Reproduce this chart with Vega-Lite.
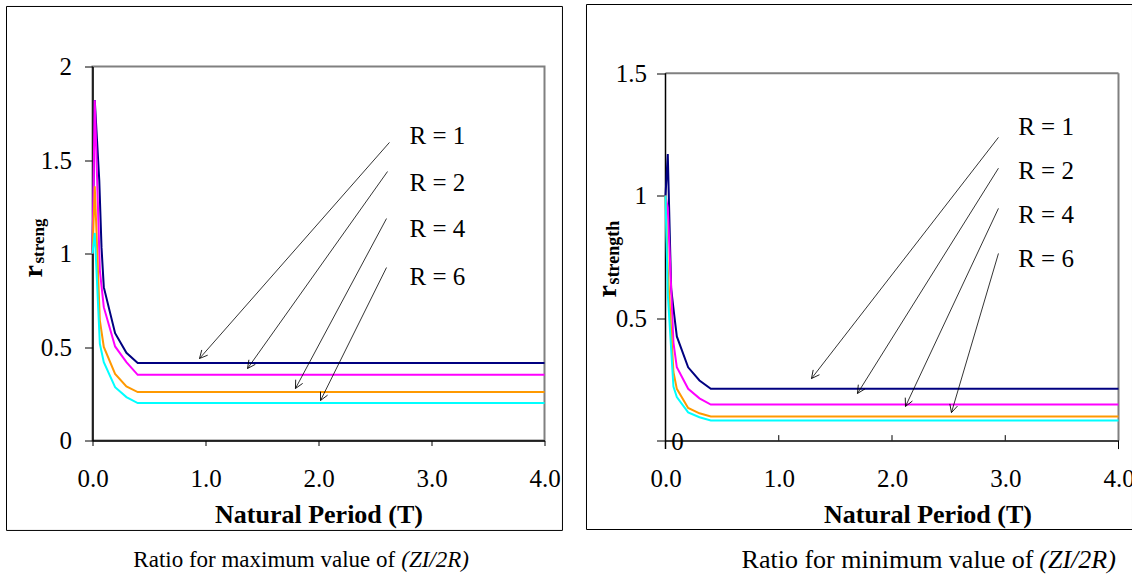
{
  "$schema": "https://vega.github.io/schema/vega-lite/v6.json",
  "padding": {"left": 4.5, "top": 3.5, "right": 0, "bottom": 0},
  "spacing": 21,
  "background": "white",
  "config": {
    "font": "Liberation Serif",
    "view": {"stroke": "#808080", "strokeWidth": 2},
    "axis": {"grid": false, "domainColor": "black", "domainWidth": 1.5, "tickColor": "black", "tickWidth": 1, "labelFont": "Liberation Serif", "labelFontSize": 25, "labelColor": "black", "labelFlush": false, "labelOverlap": false, "titleFont": "Liberation Serif", "titleFontSize": 26, "titleFontWeight": "bold", "titleColor": "black"},
    "text": {"font": "Liberation Serif", "color": "black"}
  },
  "datasets": {
    "curvesL": [
      {"R": "R = 1", "T": 0, "v": 1.0}, {"R": "R = 1", "T": 0.02, "v": 1.82}, {"R": "R = 1", "T": 0.06, "v": 1.39}, {"R": "R = 1", "T": 0.08, "v": 1.03}, {"R": "R = 1", "T": 0.1, "v": 0.82}, {"R": "R = 1", "T": 0.2, "v": 0.574}, {"R": "R = 1", "T": 0.3, "v": 0.469}, {"R": "R = 1", "T": 0.4, "v": 0.415}, {"R": "R = 1", "T": 4, "v": 0.415},
      {"R": "R = 2", "T": 0, "v": 1.0}, {"R": "R = 2", "T": 0.02, "v": 1.82}, {"R": "R = 2", "T": 0.065, "v": 0.91}, {"R": "R = 2", "T": 0.1, "v": 0.713}, {"R": "R = 2", "T": 0.2, "v": 0.503}, {"R": "R = 2", "T": 0.3, "v": 0.419}, {"R": "R = 2", "T": 0.4, "v": 0.351}, {"R": "R = 2", "T": 4, "v": 0.351},
      {"R": "R = 4", "T": 0, "v": 1.0}, {"R": "R = 4", "T": 0.02, "v": 1.36}, {"R": "R = 4", "T": 0.065, "v": 0.642}, {"R": "R = 4", "T": 0.1, "v": 0.5}, {"R": "R = 4", "T": 0.2, "v": 0.356}, {"R": "R = 4", "T": 0.3, "v": 0.289}, {"R": "R = 4", "T": 0.4, "v": 0.259}, {"R": "R = 4", "T": 4, "v": 0.259},
      {"R": "R = 6", "T": 0, "v": 1.0}, {"R": "R = 6", "T": 0.02, "v": 1.11}, {"R": "R = 6", "T": 0.065, "v": 0.517}, {"R": "R = 6", "T": 0.1, "v": 0.419}, {"R": "R = 6", "T": 0.2, "v": 0.285}, {"R": "R = 6", "T": 0.3, "v": 0.232}, {"R": "R = 6", "T": 0.4, "v": 0.2}, {"R": "R = 6", "T": 4, "v": 0.2}
    ],
    "curvesR": [
      {"R": "R = 1", "T": 0, "v": 1.0}, {"R": "R = 1", "T": 0.02, "v": 1.17}, {"R": "R = 1", "T": 0.05, "v": 0.62}, {"R": "R = 1", "T": 0.075, "v": 0.52}, {"R": "R = 1", "T": 0.1, "v": 0.425}, {"R": "R = 1", "T": 0.2, "v": 0.299}, {"R": "R = 1", "T": 0.3, "v": 0.245}, {"R": "R = 1", "T": 0.4, "v": 0.211}, {"R": "R = 1", "T": 4, "v": 0.211},
      {"R": "R = 2", "T": 0, "v": 1.0}, {"R": "R = 2", "T": 0.02, "v": 0.95}, {"R": "R = 2", "T": 0.07, "v": 0.4}, {"R": "R = 2", "T": 0.1, "v": 0.299}, {"R": "R = 2", "T": 0.2, "v": 0.211}, {"R": "R = 2", "T": 0.3, "v": 0.172}, {"R": "R = 2", "T": 0.4, "v": 0.147}, {"R": "R = 2", "T": 4, "v": 0.147},
      {"R": "R = 4", "T": 0, "v": 1.0}, {"R": "R = 4", "T": 0.02, "v": 0.7}, {"R": "R = 4", "T": 0.07, "v": 0.28}, {"R": "R = 4", "T": 0.1, "v": 0.211}, {"R": "R = 4", "T": 0.2, "v": 0.133}, {"R": "R = 4", "T": 0.3, "v": 0.111}, {"R": "R = 4", "T": 0.4, "v": 0.098}, {"R": "R = 4", "T": 4, "v": 0.098},
      {"R": "R = 6", "T": 0, "v": 1.0}, {"R": "R = 6", "T": 0.02, "v": 0.6}, {"R": "R = 6", "T": 0.07, "v": 0.22}, {"R": "R = 6", "T": 0.1, "v": 0.177}, {"R": "R = 6", "T": 0.2, "v": 0.115}, {"R": "R = 6", "T": 0.3, "v": 0.095}, {"R": "R = 6", "T": 0.4, "v": 0.082}, {"R": "R = 6", "T": 4, "v": 0.082}
    ],
    "arrowsL": [
      {"T": 0.947, "v": 0.4385, "T2": 2.628, "v2": 1.594, "angle": 131.3},
      {"T": 1.372, "v": 0.385, "T2": 2.611, "v2": 1.4385, "angle": 125.4},
      {"T": 1.796, "v": 0.278, "T2": 2.602, "v2": 1.187, "angle": 118.2},
      {"T": 2.018, "v": 0.214, "T2": 2.602, "v2": 0.925, "angle": 116.4}
    ],
    "arrowsR": [
      {"T": 1.289, "v": 0.253, "T2": 2.94, "v2": 1.238, "angle": 127.8},
      {"T": 1.695, "v": 0.192, "T2": 2.94, "v2": 1.112, "angle": 122.1},
      {"T": 2.119, "v": 0.139, "T2": 2.94, "v2": 0.948, "angle": 115.2},
      {"T": 2.525, "v": 0.114, "T2": 2.94, "v2": 0.764, "angle": 106.1}
    ]
  },
  "hconcat": [
    {
      "width": 452,
      "height": 374,
      "encoding": {
        "x": {"field": "T", "type": "quantitative", "scale": {"domain": [0, 4], "nice": false, "zero": false}, "axis": {"values": [0, 1, 2, 3, 4], "format": ".1f", "tickSize": 5, "labelPadding": 21, "title": "Natural Period (T)", "titlePadding": 10}},
        "y": {"field": "v", "type": "quantitative", "scale": {"domain": [0, 2], "nice": false}, "axis": {"values": [0, 0.5, 1, 1.5, 2], "format": "~g", "tickSize": 8, "labelPadding": 13, "title": null}}
      },
      "layer": [
        {"data": {"values": [{"T": -0.761, "T2": 4.159, "v": 2.321, "v2": -0.481}]}, "mark": {"type": "rect", "filled": false, "color": "black", "strokeWidth": 1}, "encoding": {"x2": {"field": "T2"}, "y2": {"field": "v2"}}},
        {"data": {"name": "curvesL"}, "mark": {"type": "line", "strokeWidth": 2}, "encoding": {"color": {"field": "R", "type": "nominal", "scale": {"domain": ["R = 1", "R = 2", "R = 4", "R = 6"], "range": ["#000080", "#FF00FF", "#FF9900", "#00FFFF"]}, "legend": null}}},
        {"data": {"name": "arrowsL"}, "mark": {"type": "rule", "color": "black", "strokeWidth": 0.8}, "encoding": {"x2": {"field": "T2"}, "y2": {"field": "v2"}}},
        {"data": {"name": "arrowsL"}, "mark": {"type": "point", "shape": "M0,0L-1,-0.5M0,0L-1,0.5", "filled": false, "color": "black", "strokeWidth": 0.8, "size": 250, "opacity": 1}, "encoding": {"angle": {"field": "angle", "type": "quantitative", "scale": null}}},
        {"data": {"values": [{"T": 2.805, "v": 1.588, "label": "R = 1"}, {"T": 2.805, "v": 1.333, "label": "R = 2"}, {"T": 2.805, "v": 1.086, "label": "R = 4"}, {"T": 2.805, "v": 0.834, "label": "R = 6"}]}, "mark": {"type": "text", "align": "left", "baseline": "alphabetic", "fontSize": 25}, "encoding": {"text": {"field": "label"}}},
        {"data": {"values": [{"T": -0.4513, "v": 0.8717, "label": "r"}]}, "mark": {"type": "text", "align": "left", "baseline": "alphabetic", "angle": 270, "fontSize": 28, "fontWeight": "bold"}, "encoding": {"text": {"field": "label"}}},
        {"data": {"values": [{"T": -0.4248, "v": 0.9465, "label": "streng"}]}, "mark": {"type": "text", "align": "left", "baseline": "alphabetic", "angle": 270, "fontSize": 17, "fontWeight": "bold"}, "encoding": {"text": {"field": "label"}}},
        {"data": {"values": [{"T": 2.679, "v": -0.679, "label": "Ratio for maximum value of"}]}, "mark": {"type": "text", "align": "right", "baseline": "alphabetic", "fontSize": 23}, "encoding": {"text": {"field": "label"}}},
        {"data": {"values": [{"T": 2.679, "v": -0.679, "label": "(ZI/2R)"}]}, "mark": {"type": "text", "align": "left", "baseline": "alphabetic", "fontSize": 23, "fontStyle": "italic", "dx": 6}, "encoding": {"text": {"field": "label"}}}
      ]
    },
    {
      "width": 453,
      "height": 374,
      "view": {"stroke": null},
      "encoding": {
        "x": {"field": "T", "type": "quantitative", "scale": {"domain": [0, 4], "nice": false, "zero": false}, "axis": {"values": [0, 1, 2, 3, 4], "format": ".1f", "ticks": false, "labelPadding": 26, "title": "Natural Period (T)", "titlePadding": 10, "titleX": 262}},
        "y": {"field": "v", "type": "quantitative", "scale": {"domain": [0, 1.5274], "nice": false}, "axis": {"values": [0, 0.5, 1, 1.5], "format": "~g", "labelExpr": "datum.value == 0 ? '' : datum.label", "tickSize": 9, "labelPadding": 10, "domain": false, "title": null}}
      },
      "layer": [
        {"data": {"values": [{"T": -0.6976, "T2": 4.1236, "v": 1.7806, "v2": -0.3635}]}, "mark": {"type": "rect", "filled": false, "color": "black", "strokeWidth": 1}, "encoding": {"x2": {"field": "T2"}, "y2": {"field": "v2"}}},
        {"data": {"values": [{"T": 0, "T2": 4, "v": 1.5, "v2": 1.5}, {"T": 4, "T2": 4, "v": 0, "v2": 1.5}]}, "mark": {"type": "rule", "color": "#808080", "strokeWidth": 2}, "encoding": {"x2": {"field": "T2"}, "y2": {"field": "v2"}}},
        {"data": {"values": [{"T": 0, "T2": 0, "v": -0.035, "v2": 1.5}]}, "mark": {"type": "rule", "color": "black", "strokeWidth": 1.5}, "encoding": {"x2": {"field": "T2"}, "y2": {"field": "v2"}}},
        {"data": {"values": [{"T": 1, "T2": 1, "v": 0, "v2": 0.022}, {"T": 2, "T2": 2, "v": 0, "v2": 0.022}, {"T": 3, "T2": 3, "v": 0, "v2": 0.022}, {"T": 4, "T2": 4, "v": 0, "v2": -0.035}]}, "mark": {"type": "rule", "color": "black", "strokeWidth": 1}, "encoding": {"x2": {"field": "T2"}, "y2": {"field": "v2"}}},
        {"data": {"name": "curvesR"}, "mark": {"type": "line", "strokeWidth": 2}, "encoding": {"color": {"field": "R", "type": "nominal", "scale": {"domain": ["R = 1", "R = 2", "R = 4", "R = 6"], "range": ["#000080", "#FF00FF", "#FF9900", "#00FFFF"]}, "legend": null}}},
        {"data": {"name": "arrowsR"}, "mark": {"type": "rule", "color": "black", "strokeWidth": 0.8}, "encoding": {"x2": {"field": "T2"}, "y2": {"field": "v2"}}},
        {"data": {"name": "arrowsR"}, "mark": {"type": "point", "shape": "M0,0L-1,-0.5M0,0L-1,0.5", "filled": false, "color": "black", "strokeWidth": 0.8, "size": 250, "opacity": 1}, "encoding": {"angle": {"field": "angle", "type": "quantitative", "scale": null}}},
        {"data": {"values": [{"T": 3.114, "v": 1.247, "label": "R = 1"}, {"T": 3.114, "v": 1.067, "label": "R = 2"}, {"T": 3.114, "v": 0.888, "label": "R = 4"}, {"T": 3.114, "v": 0.708, "label": "R = 6"}]}, "mark": {"type": "text", "align": "left", "baseline": "alphabetic", "fontSize": 25}, "encoding": {"text": {"field": "label"}}},
        {"data": {"values": [{"T": 0.106, "v": -0.0368, "label": "0"}]}, "mark": {"type": "text", "align": "center", "baseline": "alphabetic", "fontSize": 25}, "encoding": {"text": {"field": "label"}}},
        {"data": {"values": [{"T": -0.4415, "v": 0.5845, "label": "r"}]}, "mark": {"type": "text", "align": "left", "baseline": "alphabetic", "angle": 270, "fontSize": 28, "fontWeight": "bold"}, "encoding": {"text": {"field": "label"}}},
        {"data": {"values": [{"T": -0.415, "v": 0.6376, "label": "strength"}]}, "mark": {"type": "text", "align": "left", "baseline": "alphabetic", "angle": 270, "fontSize": 18, "fontWeight": "bold"}, "encoding": {"text": {"field": "label"}}},
        {"data": {"values": [{"T": 3.248, "v": -0.5187, "label": "Ratio for minimum value of"}]}, "mark": {"type": "text", "align": "right", "baseline": "alphabetic", "fontSize": 26}, "encoding": {"text": {"field": "label"}}},
        {"data": {"values": [{"T": 3.248, "v": -0.5187, "label": "(ZI/2R)"}]}, "mark": {"type": "text", "align": "left", "baseline": "alphabetic", "fontSize": 26, "fontStyle": "italic", "dx": 6}, "encoding": {"text": {"field": "label"}}}
      ]
    }
  ]
}
